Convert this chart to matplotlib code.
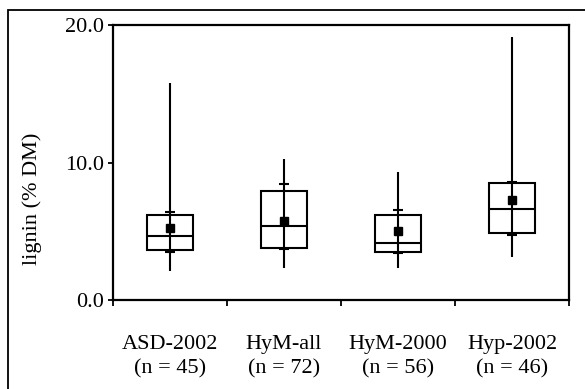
"""Lignin content box plot by data set."""

import matplotlib

matplotlib.use("Agg")
import matplotlib.pyplot as plt
from matplotlib.patches import Rectangle

groups = ["ASD-2002", "HyM-all", "HyM-2000", "Hyp-2002"]
counts = [45, 72, 56, 46]
q1 = [3.64, 3.76, 3.52, 4.90]
median = [4.68, 5.39, 4.13, 6.65]
q3 = [6.20, 7.96, 6.21, 8.54]
mean = [5.24, 5.78, 5.05, 7.28]
p10 = [3.47, 3.69, 3.45, 4.73]
p90 = [6.43, 8.42, 6.55, 8.59]
low = [2.13, 2.35, 2.35, 3.15]
high = [15.8, 10.27, 9.35, 19.18]

plt.rcParams["font.family"] = ["Liberation Serif", "DejaVu Serif"]

fig = plt.figure(figsize=(5.85, 3.89), dpi=100)
ax = fig.add_axes([113 / 585, 1 - 300 / 389, 456 / 585, 274.5 / 389])

# outer frame, cut off at right and bottom like the source
fig.patches.append(
    Rectangle((8 / 585, -0.05), 1.1, 1.05 - 10 / 389, transform=fig.transFigure,
              fill=False, edgecolor="black", linewidth=1.3)
)

lw = 1.5
box_w = 0.4
cap_w = 0.045
for i in range(len(groups)):
    x = i + 0.5
    ax.vlines(x, low[i], high[i], color="black", linewidth=lw)
    ax.add_patch(Rectangle((x - box_w / 2, q1[i]), box_w, q3[i] - q1[i],
                           fill=False, edgecolor="black", linewidth=lw))
    ax.hlines(median[i], x - box_w / 2, x + box_w / 2, color="black", linewidth=lw)
    ax.hlines([p10[i], p90[i]], x - cap_w, x + cap_w, color="black", linewidth=lw)
    ax.plot(x, mean[i], marker="s", markersize=6, color="black", linestyle="none")

ax.set_xlim(0, 4)
ax.set_ylim(0, 20)
ax.set_yticks([0, 10, 20])
ax.set_yticklabels(["0.0", "10.0", "20.0"])
ax.set_xticks([0, 1, 2, 3, 4])
ax.set_xticklabels([])
ax.set_xticks([i + 0.5 for i in range(len(groups))], minor=True)
ax.set_xticklabels([f"{g}\n(n = {n})" for g, n in zip(groups, counts)], minor=True)
ax.tick_params(axis="x", which="major", direction="out", length=4.5, width=1.3)
ax.tick_params(axis="x", which="minor", length=0, pad=25, labelsize=16)
ax.tick_params(axis="y", direction="out", length=3.6, width=1.3, pad=3, labelsize=16)
for lab in ax.get_xticklabels(minor=True):
    lab.set_linespacing(1.4)

for sp in ax.spines.values():
    sp.set_linewidth(1.6)

ax.set_ylabel("lignin (% DM)", fontsize=16)
ax.yaxis.set_label_coords(-0.155, 0.368)

fig.savefig("out.png", dpi=100)
plt.close(fig)
